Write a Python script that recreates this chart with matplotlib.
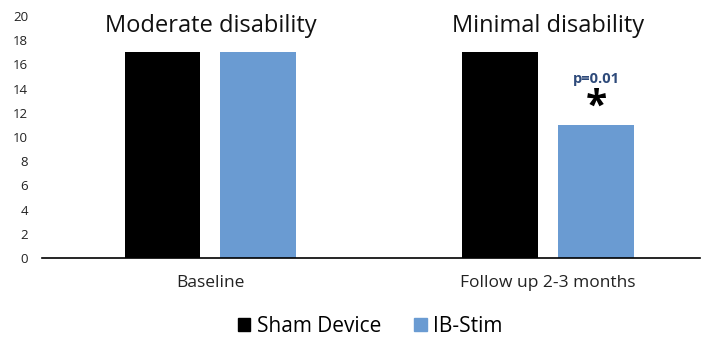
import matplotlib
matplotlib.use("Agg")
import matplotlib.pyplot as plt
from matplotlib.patches import Patch

plt.rcParams['font.family'] = ['Open Sans', 'DejaVu Sans']

categories = ["Baseline", "Follow up 2-3 months"]
series_names = ["Sham Device", "IB-Stim"]
sham = [17, 17]
ibstim = [17, 11]
group_labels = ["Moderate disability", "Minimal disability"]
yticks = [0, 2, 4, 6, 8, 10, 12, 14, 16, 18, 20]

black = "#000000"
blue = "#6a9bd2"

fig = plt.figure(figsize=(7.12, 3.4), dpi=100)
ax = fig.add_axes([0.059, 0.241, 0.924, 0.712])

x = [0, 1]
w = 0.225
off = 0.142
ax.bar([i - off for i in x], sham, width=w, color=black, label=series_names[0])
ax.bar([i + off for i in x], ibstim, width=w, color=blue, label=series_names[1])

ax.set_ylim(0, 20)
ax.set_xlim(-0.499, 1.45)
ax.set_yticks(yticks)
ax.set_yticklabels([str(t) for t in yticks], fontsize=9.5, color="#222222")
ax.set_xticks(x)
ax.set_xticklabels(categories, fontsize=12.5, color="#222222")
ax.tick_params(axis='both', length=0)
ax.tick_params(axis='x', pad=12)
ax.tick_params(axis='y', pad=10)
for s in ['top', 'right', 'left']:
    ax.spines[s].set_visible(False)
ax.spines['bottom'].set_linewidth(1.2)

for i, lab in enumerate(group_labels):
    ax.text(x[i], 19.2, lab, ha='center', va='center', fontsize=17, color="#111111")

ax.text(x[1] + off, 14.8, "p=0.01", ha='center', va='center', fontsize=10.5,
        fontweight='bold', color="#2e4a7a")
ax.text(x[1] + off, 12.5, "*", ha='center', va='center', fontsize=28,
        fontweight='bold', color="black")

handles = [Patch(color=black), Patch(color=blue)]
fig.legend(handles, series_names, loc='center', bbox_to_anchor=(0.52, 0.04),
           ncol=2, frameon=False, fontsize=15, handlelength=0.6, handleheight=0.6,
           handletextpad=0.3, columnspacing=1.6)

fig.savefig("out.png", dpi=100)
